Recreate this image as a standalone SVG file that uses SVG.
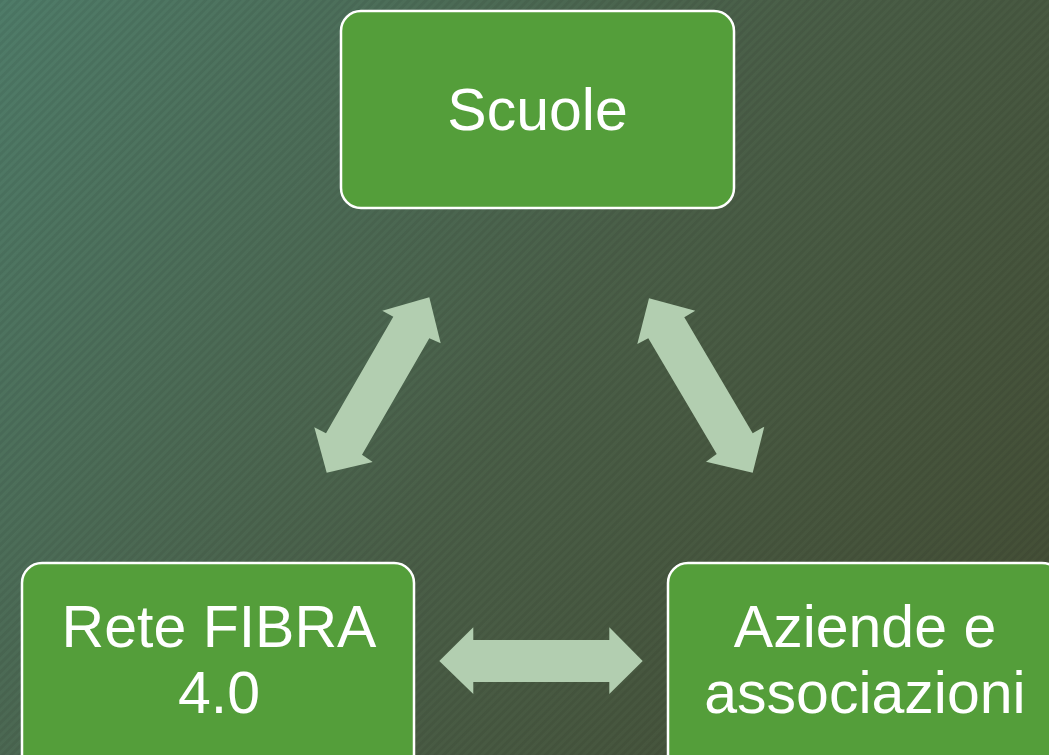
<svg xmlns="http://www.w3.org/2000/svg" width="1049" height="755" viewBox="0 0 1049 755">
  <defs>
    <linearGradient id="bg" x1="0" y1="0" x2="1049" y2="755" gradientUnits="userSpaceOnUse">
      <stop offset="0" stop-color="#4f7c69"/>
      <stop offset="0.5" stop-color="#4a5f48"/>
      <stop offset="1" stop-color="#434c33"/>
    </linearGradient>
    <pattern id="stripes" width="6" height="6" patternUnits="userSpaceOnUse" patternTransform="rotate(-45)">
      <rect x="0" y="0" width="6" height="3" fill="#000" fill-opacity="0.06"/>
    </pattern>
    <style>
      .box { fill: #549e3a; stroke: #ffffff; stroke-width: 2.5; }
      .lbl { fill: #ffffff; font-family: "Liberation Sans", Arial, sans-serif; font-size: 59px; text-anchor: middle; }
      .arr { fill: #b2ceb0; }
    </style>
  </defs>
  <rect x="0" y="0" width="1049" height="755" fill="url(#bg)"/>
  <rect x="0" y="0" width="1049" height="755" fill="url(#stripes)"/>

  <g id="connectors">
    <polygon class="arr" points="429.3,297.3 440.7,343.3 429.3,338.3 362,454.7 372.7,462 326.7,472.7 314.3,427.3 326,433.3 393.3,316.7 382.3,310.7"/>
    <polygon class="arr" points="649,298.3 695.3,310.7 684.3,317.3 752.7,433.3 764.3,426.7 752.7,472.7 706,461.7 716.7,454 648.3,338.3 637.3,344"/>
    <polygon class="arr" points="439.3,661 473.3,627.3 473.3,640 609.3,640 609.3,627.3 642.7,661 609.3,694 609.3,682 473.3,682 473.3,694"/>
  </g>

  <g id="node-scuole">
    <rect class="box" x="341" y="11" width="393" height="197" rx="20" ry="20"/>
    <text class="lbl" x="537.5" y="130">Scuole</text>
  </g>

  <g id="node-rete">
    <rect class="box" x="22" y="563" width="392" height="215" rx="20" ry="20"/>
    <text class="lbl" x="219" y="646.5">Rete FIBRA</text>
    <text class="lbl" x="219" y="713">4.0</text>
  </g>

  <g id="node-aziende">
    <rect class="box" x="668" y="563" width="394" height="215" rx="20" ry="20"/>
    <text class="lbl" x="865" y="646.5">Aziende e</text>
    <text class="lbl" x="865" y="713">associazioni</text>
  </g>
</svg>
